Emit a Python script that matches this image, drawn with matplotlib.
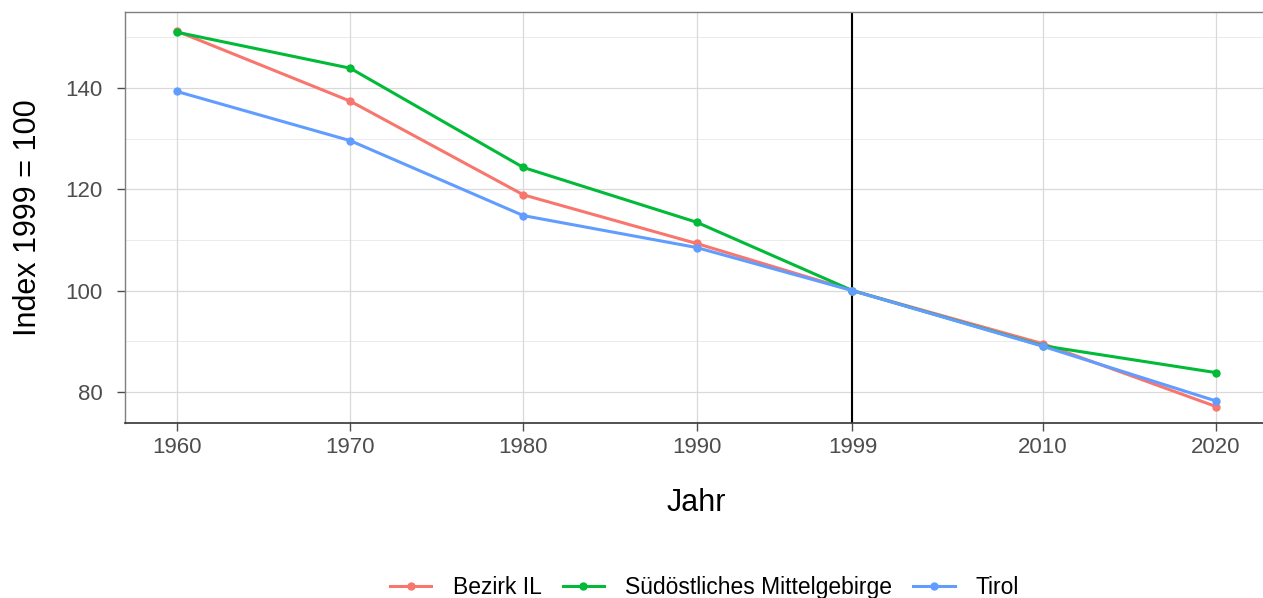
import matplotlib.pyplot as plt

plt.rcParams['font.family'] = ['Liberation Sans', 'DejaVu Sans']

# data
years = [1960, 1970, 1980, 1990, 1999, 2010, 2020]
bezirk_il = [151.2, 137.4, 118.9, 109.3, 100.0, 89.5, 77.1]
mittelgebirge = [151.0, 143.9, 124.3, 113.5, 100.0, 89.1, 83.8]
tirol = [139.3, 129.6, 114.8, 108.5, 100.0, 89.0, 78.2]

series = [
    ('Bezirk IL', bezirk_il, '#F8766D'),
    ('Südöstliches Mittelgebirge', mittelgebirge, '#00BA38'),
    ('Tirol', tirol, '#619CFF'),
]

fig = plt.figure(figsize=(12.63, 5.98), dpi=100)
ax = fig.add_axes([0.099, 0.293, 0.905, 0.687])

# gridlines
for y in [80, 100, 120, 140]:
    ax.axhline(y, color='#d9d9d9', lw=0.9, zorder=0)
for y in [90, 110, 130, 150]:
    ax.axhline(y, color='#e8e8e8', lw=0.6, zorder=0)
for x in years:
    ax.axvline(x, color='#d9d9d9', lw=0.9, zorder=0)

# reference year
ax.axvline(1999, color='black', lw=1.5, zorder=1)

for name, vals, col in series:
    ax.plot(years, vals, color=col, lw=2.2, marker='o', markersize=5, label=name, zorder=2)

ax.set_xlim(1957, 2023)
ax.set_ylim(73.9, 155.0)
ax.set_xticks(years)
ax.set_yticks([80, 100, 120, 140])
ax.tick_params(labelsize=16, colors='#4d4d4d', length=6, width=1,
               labelcolor='#4d4d4d')
ax.tick_params(axis='x', pad=4)
ax.tick_params(axis='y', pad=10)

for side in ['left', 'top', 'right']:
    ax.spines[side].set_color('#7f7f7f')
    ax.spines[side].set_linewidth(1)
ax.spines['bottom'].set_color('#333333')
ax.spines['bottom'].set_linewidth(1.2)

ax.set_xlabel('Jahr', fontsize=22, labelpad=22)
ax.set_ylabel('Index 1999 = 100', fontsize=22)
ax.yaxis.set_label_coords(-0.0722, 0.5)

fig.legend(loc='center', bbox_to_anchor=(0.558, 0.0175), ncol=3, frameon=False,
           fontsize=16.5, handlelength=1.8, columnspacing=0.92, handletextpad=0.93)

plt.savefig('out.png', dpi=100)
